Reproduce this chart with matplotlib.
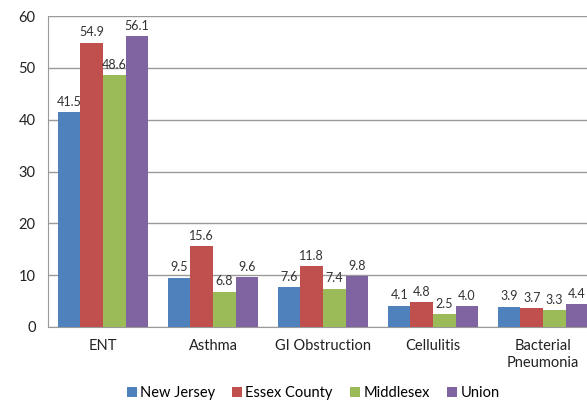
import numpy as np
import matplotlib
matplotlib.use('Agg')
import matplotlib.pyplot as plt

plt.rcParams['font.family'] = ['Lato', 'DejaVu Sans']

categories = ['ENT', 'Asthma', 'GI Obstruction', 'Cellulitis', 'Bacterial\nPneumonia']
series_names = ['New Jersey', 'Essex County', 'Middlesex', 'Union']
new_jersey = [41.5, 9.5, 7.6, 4.1, 3.9]
essex = [54.9, 15.6, 11.8, 4.8, 3.7]
middlesex = [48.6, 6.8, 7.4, 2.5, 3.3]
union = [56.1, 9.6, 9.8, 4.0, 4.4]
colors = ['#4F81BD', '#C0504D', '#9BBB59', '#8064A2']

fig = plt.figure(figsize=(5.87, 4.05), dpi=100)
ax = fig.add_axes([0.0818, 0.193, 0.937, 0.767])

x = np.arange(len(categories))
width = 0.205
all_series = [new_jersey, essex, middlesex, union]
for i, vals in enumerate(all_series):
    pos = x + (i - 1.5) * width
    bars = ax.bar(pos, vals, width, color=colors[i], label=series_names[i], zorder=3)
    for b, v in zip(bars, vals):
        ax.annotate('%.1f' % v, (b.get_x() + b.get_width() / 2, v),
                    xytext=(0, 3), textcoords='offset points',
                    ha='center', va='bottom', fontsize=9, color='#333333', zorder=4)

ax.set_xlim(-0.5, len(categories) - 0.5)
ax.set_ylim(0, 60)
ax.set_yticks(range(0, 61, 10))
ax.set_xticks(x)
ax.set_xticklabels(categories, fontsize=10.5, color='#222222')
ax.tick_params(axis='x', length=0, pad=9)
ax.tick_params(axis='y', length=0, pad=9, labelsize=10.5, labelcolor='#222222')
ax.yaxis.grid(True, color='#9a9a9a', linewidth=1, zorder=0)
for s in ['top', 'right']:
    ax.spines[s].set_visible(False)
for s in ['left', 'bottom']:
    ax.spines[s].set_color('#9a9a9a')

fig.legend(loc='center', bbox_to_anchor=(313 / 587, 1 - 393 / 405), ncol=4,
           frameon=False, fontsize=10.5, handlelength=0.7, handleheight=0.7,
           handletextpad=0.2, columnspacing=1.2)

fig.savefig('out.png', dpi=100)
